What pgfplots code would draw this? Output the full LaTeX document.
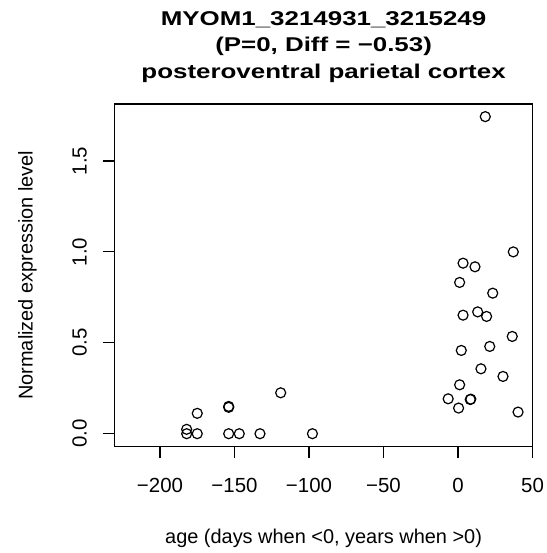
\documentclass[border=0pt]{standalone}
\usepackage{pgfplots}
\pgfplotsset{compat=1.18}
\usepackage{fontspec}
\setmainfont{Liberation Sans}
\newfontfamily\titlefont[FakeStretch=1.3]{Liberation Sans}
\begin{document}
\begin{tikzpicture}
\useasboundingbox (-114.7bp,-106.7bp) rectangle (432.3bp,446.3bp);
\begin{axis}[
  at={(0,0)}, anchor=south west,
  scale only axis,
  width=417.8bp, height=342.3bp,
  xmin=-230.4, xmax=50,
  ymin=-0.0693, ymax=1.8135,
  axis line style={line width=1.1bp},
  tick style={line width=1.1bp, black},
  tick align=outside,
  major tick length=12bp,
  xtick={-200,-150,-100,-50,0,50},
  xticklabels={−200,−150,−100,−50,0,50},
  ytick={0,0.5,1,1.5},
  yticklabels={0.0,0.5,1.0,1.5},
  xtick pos=bottom, ytick pos=left,
  ticklabel style={font=\fontsize{20.5}{24}\selectfont},
  xticklabel style={anchor=base, yshift=-34bp},
  yticklabel style={xshift=-16bp, rotate=90, anchor=base},
  label style={font=\fontsize{20}{24}\selectfont},
  xlabel={age (days when <0, years when >0)},
  xlabel style={at={([yshift=-97bp]rel axis cs:0.5,0)}, anchor=base},
  ylabel={Normalized expression level},
  ylabel style={at={([xshift=-82bp]rel axis cs:0,0.5)}, anchor=base, rotate=0},
  clip=false,
]
\addplot[only marks, mark=o, mark size=5bp, mark options={line width=1.2bp, black}] coordinates {
(-182.1,0) (-182.1,0.024) (-175.0,0) (-175.0,0.112)
(-153.9,0.145) (-153.9,0.150) (-153.9,0) (-146.8,0)
(-132.9,0) (-119.0,0.225) (-97.7,0)
(18.3,1.744) (37.1,1.0) (3.4,0.938) (11.4,0.918) (1.1,0.832)
(23.3,0.773) (3.4,0.652) (13.2,0.670) (19.2,0.645) (36.4,0.535)
(21.3,0.480) (2.2,0.458) (15.4,0.357) (30.2,0.315) (1.1,0.269)
(-6.6,0.192) (8.6,0.190) (8.2,0.188) (0.4,0.141) (40.3,0.119)
};
\node[anchor=base, font={\titlefont\bfseries\fontsize{20}{24}\selectfont}] at ([yshift=78.3bp]rel axis cs:0.5,1) {MYOM1\_3214931\_3215249};
\node[anchor=base, font={\titlefont\bfseries\fontsize{20}{24}\selectfont}] at ([yshift=52bp]rel axis cs:0.5,1) {(P=0, Diff = −0.53)};
\node[anchor=base, font={\titlefont\bfseries\fontsize{20}{24}\selectfont}] at ([yshift=25.3bp]rel axis cs:0.5,1) {posteroventral parietal cortex};
\end{axis}
\end{tikzpicture}
\end{document}
